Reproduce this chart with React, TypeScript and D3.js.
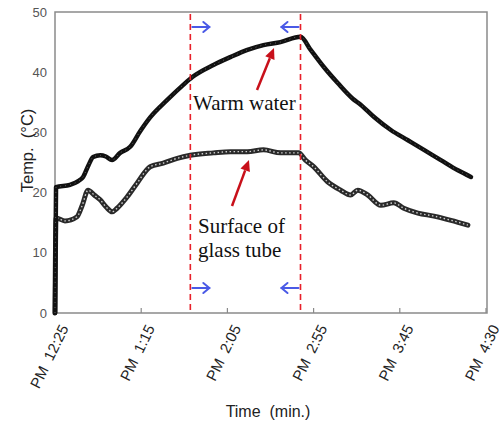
import React from "react";
import * as d3 from "d3";

// minutes after PM 12:25
const warmTime = [0, 0.6, 8.7, 13.5, 16.3, 19.5, 22.1, 26.2, 29.5, 33.1, 37.8, 43.6, 49.4, 55.2, 65.1, 74.4, 79.7, 91.9, 101.7, 111.6, 120.9, 130.8, 142.4, 148.3, 155.8, 164.0, 172.7, 177.3, 184.9, 194.8, 204.7, 214.0, 223.8, 233.7, 241.3];
const warmTemp = [0, 20.9, 21.3, 21.9, 22.6, 24.6, 25.9, 26.2, 26.0, 25.4, 26.6, 27.6, 30.2, 32.5, 35.4, 37.9, 39.2, 41.2, 42.5, 43.7, 44.5, 45.0, 45.9, 43.7, 40.9, 38.2, 35.6, 34.6, 32.6, 30.4, 28.7, 27.1, 25.4, 23.7, 22.6];

const surfTime = [0, 0.6, 5.8, 12.8, 15.7, 19.2, 22.7, 26.2, 29.7, 33.1, 36.0, 41.9, 47.7, 55.2, 62.8, 70.9, 78.5, 91.9, 101.7, 111.6, 120.9, 130.8, 141.3, 145.3, 150, 158.1, 165.7, 171.5, 175.6, 181.4, 189, 196.5, 202.3, 210.5, 219.8, 229.7, 239.5];
const surfTemp = [0, 15.8, 15.3, 16.0, 17.8, 20.4, 19.6, 18.8, 17.6, 16.8, 17.4, 19.3, 21.6, 24.3, 24.9, 25.7, 26.2, 26.6, 26.8, 26.8, 27.1, 26.6, 26.6, 25.4, 24.3, 21.8, 20.4, 19.6, 20.4, 19.6, 17.9, 18.3, 17.4, 16.6, 16.1, 15.4, 14.6];

const xTickValues = [0, 50, 100, 150, 200, 250];
const xTickLabels = ["PM  12:25", "PM  1:15", "PM  2:05", "PM  2:55", "PM  3:45", "PM  4:30"];
const yTickValues = [0, 10, 20, 30, 40, 50];
const markerTimes = [78.5, 142.4];

export default function App() {
  const W = 504, H = 425;
  const L = 55, R = 486, T = 12, B = 313;
  const x = d3.scaleLinear().domain([0, 250]).range([L, R]);
  const y = d3.scaleLinear().domain([0, 50]).range([B, T]);
  const warmPts = warmTime.map((t, i) => [x(t), y(warmTemp[i])] as [number, number]);
  const surfPts = surfTime.map((t, i) => [x(t), y(surfTemp[i])] as [number, number]);
  const lineGen = d3.line().curve(d3.curveMonotoneX);
  const warmPath = lineGen(warmPts) || "";
  const surfPath = lineGen(surfPts) || "";

  const blue = "#4a5ae6";
  const red = "#c8101a";
  const x1 = x(markerTimes[0]);
  const x2 = x(markerTimes[1]);

  const blueArrow = (xs: number, xe: number, yy: number, key: string) => {
    const dir = xe > xs ? 1 : -1;
    return (
      <g key={key} stroke={blue} strokeWidth={2} fill="none" strokeLinecap="round">
        <line x1={xs} y1={yy} x2={xe} y2={yy} />
        <polyline points={`${xe - dir * 6},${yy - 5} ${xe},${yy} ${xe - dir * 6},${yy + 5}`} />
      </g>
    );
  };

  const redArrow = (xs: number, ys: number, xe: number, ye: number, key: string) => {
    const ang = Math.atan2(ye - ys, xe - xs);
    const hl = 11, hw = 5;
    const bx = xe - hl * Math.cos(ang), by = ye - hl * Math.sin(ang);
    const px = -Math.sin(ang) * hw, py = Math.cos(ang) * hw;
    return (
      <g key={key}>
        <line x1={xs} y1={ys} x2={bx} y2={by} stroke={red} strokeWidth={2.5} />
        <polygon points={`${xe},${ye} ${bx + px},${by + py} ${bx - px},${by - py}`} fill={red} />
      </g>
    );
  };

  return (
    <svg width={W} height={H} style={{ position: "absolute", left: 0, top: 0, background: "#fff" }}>
      <rect x={L} y={T} width={R + 1 - L} height={B - T} fill="none" stroke="#8a8a8a" strokeWidth={1.5} />
      {xTickValues.map((v) => (
        <line key={"xt" + v} x1={x(v)} x2={x(v)} y1={B} y2={B - 5} stroke="#8a8a8a" strokeWidth={1.2} />
      ))}
      {yTickValues.map((v) => (
        <text key={"yl" + v} x={L - 8} y={y(v)} dy="0.35em" textAnchor="end" fontFamily="Liberation Sans, Arial, sans-serif" fontSize={13} fill="#555">
          {v}
        </text>
      ))}
      {xTickValues.map((v, i) => (
        <text
          key={"xl" + v}
          transform={`translate(${x(v) + 14},${B + 15}) rotate(-64)`}
          textAnchor="end"
          fontFamily="Liberation Sans, Arial, sans-serif"
          fontSize={15}
          fill="#222"
          style={{ whiteSpace: "pre" }}
        >
          {xTickLabels[i]}
        </text>
      ))}
      <text
        transform={`translate(33,${(T + B) / 2 - 12}) rotate(-90)`}
        textAnchor="middle"
        fontFamily="Liberation Sans, Arial, sans-serif"
        fontSize={16.5}
        fill="#222"
        style={{ whiteSpace: "pre" }}
      >
        {"Temp.  (°C)"}
      </text>
      <text x={268} y={417} textAnchor="middle" fontFamily="Liberation Sans, Arial, sans-serif" fontSize={16} fill="#222" style={{ whiteSpace: "pre" }}>
        {"Time  (min.)"}
      </text>

      <path d={surfPath} fill="none" stroke="#2a2a2a" strokeWidth={5} strokeLinejoin="round" strokeLinecap="round" />
      <path d={surfPath} fill="none" stroke="#cfcfcf" strokeWidth={1.4} strokeDasharray="1.5 2.5" />
      <path d={warmPath} fill="none" stroke="#111" strokeWidth={4.5} strokeLinejoin="round" strokeLinecap="round" />
      <path d={warmPath} fill="none" stroke="#777" strokeWidth={0.8} strokeDasharray="1 4" />

      {[x1, x2].map((xx, i) => (
        <line key={"dl" + i} x1={xx} x2={xx} y1={T + 2} y2={B - 2} stroke="#e8202a" strokeWidth={1.6} strokeDasharray="6 4" />
      ))}
      {blueArrow(x1 + 2, x1 + 19, 27, "b1")}
      {blueArrow(x2 - 2, x2 - 19, 27, "b2")}
      {blueArrow(x1 + 2, x1 + 19, 288, "b3")}
      {blueArrow(x2 - 2, x2 - 19, 288, "b4")}

      {redArrow(257, 90, 274, 48, "r1")}
      {redArrow(232, 206, 249, 160, "r2")}

      <text x={193} y={110} fontFamily="Liberation Serif, Times New Roman, serif" fontSize={21} fill="#111">Warm water</text>
      <text x={198} y={233} fontFamily="Liberation Serif, Times New Roman, serif" fontSize={21} fill="#111">Surface of</text>
      <text x={198} y={257} fontFamily="Liberation Serif, Times New Roman, serif" fontSize={21} fill="#111">glass tube</text>
    </svg>
  );
}
